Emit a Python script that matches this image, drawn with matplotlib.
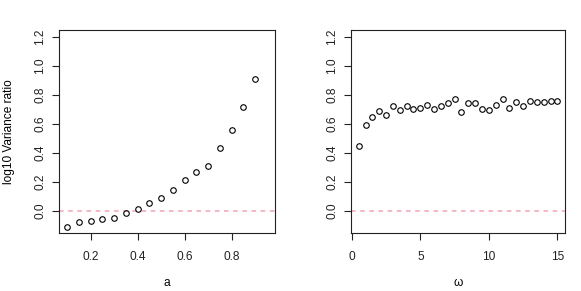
import numpy as np
import matplotlib
matplotlib.use("Agg")
import matplotlib.pyplot as plt

plt.rcParams['font.family'] = ['Liberation Sans', 'DejaVu Sans']

# left panel: variance ratio against a
a_vals = [0.10, 0.15, 0.20, 0.25, 0.30, 0.35, 0.40, 0.45, 0.50,
          0.55, 0.60, 0.65, 0.70, 0.75, 0.80, 0.85, 0.90]
ratio_a = [-0.108, -0.078, -0.069, -0.051, -0.048, -0.014, 0.018, 0.055, 0.090,
           0.143, 0.215, 0.270, 0.314, 0.438, 0.558, 0.720, 0.912]

# right panel: variance ratio against omega
omega_vals = [0.5, 1.0, 1.5, 2.0, 2.5, 3.0, 3.5, 4.0, 4.5, 5.0,
              5.5, 6.0, 6.5, 7.0, 7.5, 8.0, 8.5, 9.0, 9.5, 10.0,
              10.5, 11.0, 11.5, 12.0, 12.5, 13.0, 13.5, 14.0, 14.5, 15.0]
ratio_omega = [0.448, 0.598, 0.651, 0.690, 0.662, 0.725, 0.699, 0.727, 0.706, 0.715,
               0.736, 0.706, 0.727, 0.748, 0.775, 0.681, 0.745, 0.748, 0.706, 0.699,
               0.732, 0.771, 0.711, 0.752, 0.727, 0.761, 0.755, 0.752, 0.757, 0.759]

y_ticks = [0.0, 0.2, 0.4, 0.6, 0.8, 1.0, 1.2]
a_ticks = [0.2, 0.4, 0.6, 0.8]
omega_ticks = [0, 5, 10, 15]

W, H = 581, 291
fig = plt.figure(figsize=(W / 100, H / 100), dpi=100)

ax1 = fig.add_axes([59 / W, (H - 232.5) / H, 216 / W, 202.5 / H])
ax2 = fig.add_axes([350.7 / W, (H - 232.5) / H, 214.6 / W, 202.5 / H])

fs = 8.6
for ax, xs, ys, xt, xlim, xlab in [
        (ax1, a_vals, ratio_a, a_ticks, (0.066, 0.984), "a"),
        (ax2, omega_vals, ratio_omega, omega_ticks, (-0.08, 15.58), "ω")]:
    ax.axhline(0, color='#F4A3B3', lw=1.1, ls=(0, (3, 3)), zorder=1)
    ax.plot(xs, ys, 'o', mfc='none', mec='black', ms=4.0, mew=0.8, zorder=2)
    ax.set_xlim(*xlim)
    ax.set_ylim(-0.147, 1.25)
    ax.set_xticks(xt)
    ax.set_xticklabels([str(t) for t in xt])
    ax.set_yticks(y_ticks)
    ax.set_yticklabels([f"{t:.1f}" for t in y_ticks], rotation=90, va='center')
    ax.tick_params(direction='out', length=5, width=0.8, labelsize=fs,
                   colors='#222222')
    ax.tick_params(axis='x', pad=8)
    ax.tick_params(axis='y', pad=4)
    for sp in ax.spines.values():
        sp.set_linewidth(0.8)
        sp.set_color('#222222')
    ax.set_xlabel(xlab, fontsize=fs, va='center')
    ax.xaxis.set_label_coords(0.5, -0.25)

ax1.set_ylabel("log10 Variance ratio", fontsize=fs, va='center')
ax1.yaxis.set_label_coords(-0.231, 0.5)

fig.savefig("out.png", dpi=100)
